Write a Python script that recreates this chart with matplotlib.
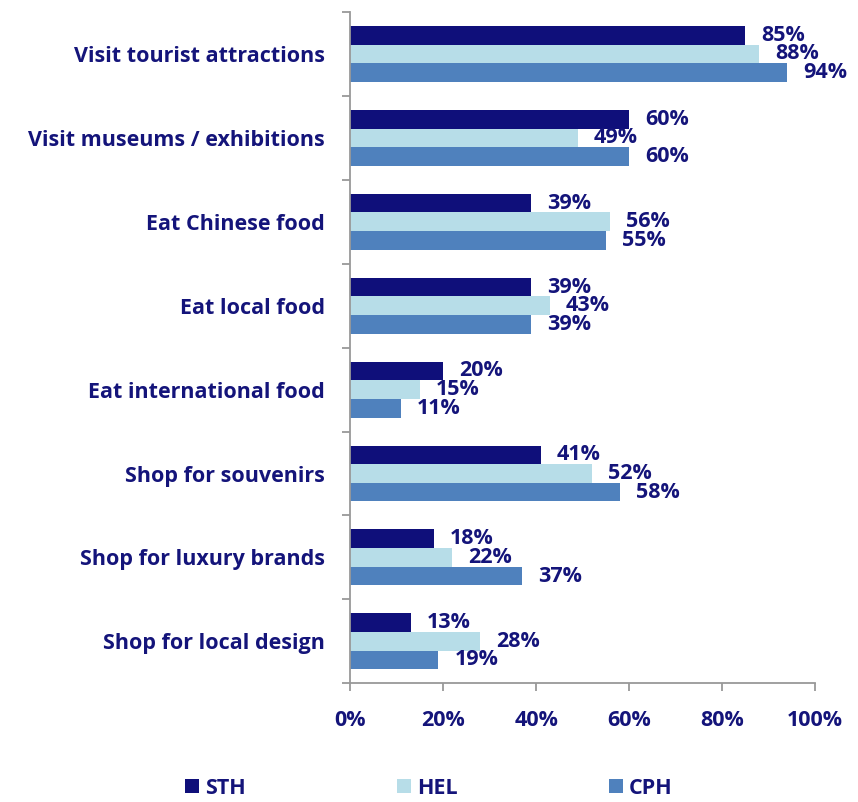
import matplotlib.pyplot as plt
import numpy as np

activities = ["Visit tourist attractions", "Visit museums / exhibitions", "Eat Chinese food",
              "Eat local food", "Eat international food", "Shop for souvenirs",
              "Shop for luxury brands", "Shop for local design"]
sth = [85, 60, 39, 39, 20, 41, 18, 13]
hel = [88, 49, 56, 43, 15, 52, 22, 28]
cph = [94, 60, 55, 39, 11, 58, 37, 19]
cities = ["STH", "HEL", "CPH"]

navy = "#14147a"
colors = ["#0f0f7a", "#b7dde8", "#4f81bd"]
fs = 15.5

plt.rcParams['font.family'] = ['Open Sans', 'DejaVu Sans']
plt.rcParams['font.weight'] = 'bold'

fig = plt.figure(figsize=(8.58, 8.02), dpi=100)
ax = fig.add_axes([0.408, 0.148, 0.542, 0.837])

y = np.arange(len(activities))
h = 0.222
for i, (vals, name) in enumerate(zip([sth, hel, cph], cities)):
    pos = y + (i - 1) * h
    bars = ax.barh(pos, vals, height=h, color=colors[i], label=name)
    for b, v in zip(bars, vals):
        ax.annotate(f"{v}%", (v, b.get_y() + b.get_height() / 2), xytext=(11.5, 0),
                    textcoords="offset points", va="center", ha="left",
                    fontsize=fs, fontweight="bold", color=navy)

ax.set_xlim(0, 100)
ax.set_ylim(len(activities) - 0.5, -0.5)
ax.set_xticks(np.arange(0, 101, 20))
ax.set_xticklabels([f"{t}%" for t in range(0, 101, 20)])
ax.set_yticks(y)
ax.set_yticklabels(activities)
ax.set_yticks(np.arange(-0.5, len(activities)), minor=True)

for s in ["top", "right"]:
    ax.spines[s].set_visible(False)
for s in ["left", "bottom"]:
    ax.spines[s].set_color("#999999")
    ax.spines[s].set_linewidth(1.3)

ax.tick_params(axis="y", which="major", length=0, pad=18, labelsize=fs, labelcolor=navy)
ax.tick_params(axis="y", which="minor", length=6, color="#999999", width=1.3)
ax.tick_params(axis="x", which="major", length=6, color="#999999", width=1.3, pad=13,
               labelsize=fs, labelcolor=navy)
for lbl in ax.get_xticklabels() + ax.get_yticklabels():
    lbl.set_fontweight("bold")

leg = fig.legend(loc="center", bbox_to_anchor=(0.5, 0.017), ncol=3, frameon=False,
                 fontsize=fs, handlelength=0.65, handleheight=0.65, handletextpad=0.3,
                 columnspacing=7.0, borderpad=0.1)
for t in leg.get_texts():
    t.set_color(navy)
    t.set_fontweight("bold")

fig.savefig("out.png", dpi=100)
